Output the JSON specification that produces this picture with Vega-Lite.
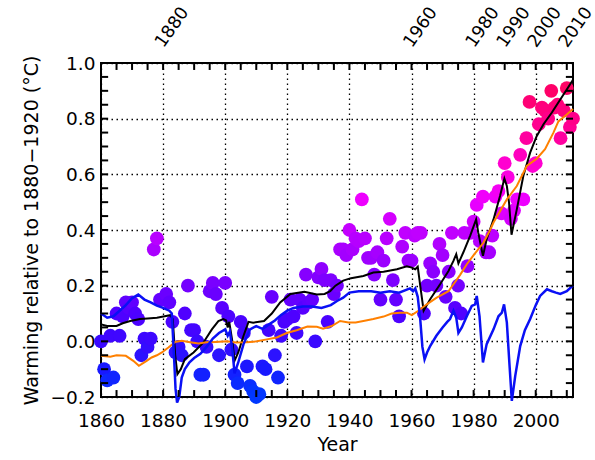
{
  "$schema": "https://vega.github.io/schema/vega-lite/v6.json",
  "width": 472,
  "height": 334,
  "autosize": "none",
  "padding": {"left": 101, "top": 63, "right": 22, "bottom": 63},
  "config": {
    "view": {"stroke": "black", "strokeWidth": 2},
    "font": "DejaVu Sans",
    "axis": {"labelFontSize": 18.5, "titleFontSize": 19, "titleFontWeight": "normal", "labelColor": "black", "titleColor": "black", "domain": false, "labelOverlap": false, "labelFlush": false}
  },
  "datasets": {
    "pts": [
      {"year":1860,"value":0.00},{"year":1861,"value":-0.10},{"year":1862,"value":-0.14},{"year":1863,"value":0.02},{"year":1864,"value":-0.13},
      {"year":1865,"value":0.10},{"year":1866,"value":0.02},{"year":1867,"value":0.09},{"year":1868,"value":0.14},{"year":1869,"value":0.12},
      {"year":1870,"value":0.14},{"year":1871,"value":0.10},{"year":1872,"value":0.08},{"year":1873,"value":-0.05},{"year":1874,"value":0.01},
      {"year":1875,"value":-0.02},{"year":1876,"value":0.01},{"year":1877,"value":0.33},{"year":1878,"value":0.37},{"year":1879,"value":0.15},
      {"year":1880,"value":0.15},{"year":1881,"value":0.17},{"year":1882,"value":0.14},{"year":1883,"value":0.07},{"year":1884,"value":-0.04},
      {"year":1885,"value":-0.02},{"year":1886,"value":-0.05},{"year":1887,"value":0.10},{"year":1888,"value":0.20},{"year":1889,"value":0.04},
      {"year":1890,"value":0.04},{"year":1891,"value":0.00},{"year":1892,"value":-0.12},{"year":1893,"value":-0.12},{"year":1894,"value":-0.02},
      {"year":1895,"value":0.18},{"year":1896,"value":0.21},{"year":1897,"value":0.17},{"year":1898,"value":-0.05},{"year":1899,"value":0.12},
      {"year":1900,"value":0.21},{"year":1901,"value":0.09},{"year":1902,"value":-0.03},{"year":1903,"value":-0.12},{"year":1904,"value":-0.15},
      {"year":1905,"value":0.07},{"year":1906,"value":0.03},{"year":1907,"value":-0.09},{"year":1908,"value":-0.16},{"year":1909,"value":-0.18},
      {"year":1910,"value":-0.20},{"year":1911,"value":-0.19},{"year":1912,"value":-0.09},{"year":1913,"value":-0.10},{"year":1914,"value":0.04},
      {"year":1915,"value":0.16},{"year":1916,"value":-0.05},{"year":1917,"value":-0.13},{"year":1918,"value":0.02},{"year":1919,"value":0.07},
      {"year":1920,"value":0.08},{"year":1921,"value":0.15},{"year":1922,"value":0.09},{"year":1923,"value":0.03},{"year":1924,"value":0.15},
      {"year":1925,"value":0.12},{"year":1926,"value":0.24},{"year":1927,"value":0.14},{"year":1928,"value":0.15},{"year":1929,"value":0.00},
      {"year":1930,"value":0.23},{"year":1931,"value":0.26},{"year":1932,"value":0.22},{"year":1933,"value":0.07},{"year":1934,"value":0.22},
      {"year":1935,"value":0.17},{"year":1936,"value":0.20},{"year":1937,"value":0.33},{"year":1938,"value":0.33},{"year":1939,"value":0.31},
      {"year":1940,"value":0.40},{"year":1941,"value":0.33},{"year":1942,"value":0.37},{"year":1943,"value":0.36},{"year":1944,"value":0.51},
      {"year":1945,"value":0.37},{"year":1946,"value":0.30},{"year":1947,"value":0.30},{"year":1948,"value":0.24},{"year":1949,"value":0.32},
      {"year":1950,"value":0.15},{"year":1951,"value":0.29},{"year":1952,"value":0.37},{"year":1953,"value":0.44},{"year":1954,"value":0.22},
      {"year":1955,"value":0.15},{"year":1956,"value":0.09},{"year":1957,"value":0.34},{"year":1958,"value":0.39},{"year":1959,"value":0.29},
      {"year":1960,"value":0.29},{"year":1961,"value":0.38},{"year":1962,"value":0.39},{"year":1963,"value":0.39},{"year":1964,"value":0.10},
      {"year":1965,"value":0.20},{"year":1966,"value":0.28},{"year":1967,"value":0.25},{"year":1968,"value":0.20},{"year":1969,"value":0.35},
      {"year":1970,"value":0.31},{"year":1971,"value":0.16},{"year":1972,"value":0.25},{"year":1973,"value":0.39},{"year":1974,"value":0.12},
      {"year":1975,"value":0.20},{"year":1976,"value":0.10},{"year":1977,"value":0.39},{"year":1978,"value":0.27},{"year":1979,"value":0.39},
      {"year":1980,"value":0.43},{"year":1981,"value":0.49},{"year":1982,"value":0.36},{"year":1983,"value":0.52},{"year":1984,"value":0.32},
      {"year":1985,"value":0.32},{"year":1986,"value":0.38},{"year":1987,"value":0.52},{"year":1988,"value":0.54},{"year":1989,"value":0.46},
      {"year":1990,"value":0.64},{"year":1991,"value":0.59},{"year":1992,"value":0.44},{"year":1993,"value":0.47},{"year":1994,"value":0.51},
      {"year":1995,"value":0.67},{"year":1996,"value":0.51},{"year":1997,"value":0.73},{"year":1998,"value":0.86},{"year":1999,"value":0.63},
      {"year":2000,"value":0.64},{"year":2001,"value":0.78},{"year":2002,"value":0.84},{"year":2003,"value":0.83},{"year":2004,"value":0.80},
      {"year":2005,"value":0.90},{"year":2006,"value":0.84},{"year":2007,"value":0.85},{"year":2008,"value":0.73},{"year":2009,"value":0.83},
      {"year":2010,"value":0.91},{"year":2011,"value":0.77},{"year":2012,"value":0.80}
    ],
    "black": [
      {"year":1860,"value":0.061},{"year":1862,"value":0.055},{"year":1865,"value":0.055},{"year":1867,"value":0.065},{"year":1869.4,"value":0.073},
      {"year":1872.6,"value":0.08},{"year":1875,"value":0.082},{"year":1878,"value":0.085},{"year":1880.5,"value":0.09},{"year":1882.3,"value":0.094},
      {"year":1883.1,"value":0.08},{"year":1883.9,"value":-0.05},{"year":1884.6,"value":-0.118},{"year":1885.7,"value":-0.10},{"year":1887,"value":-0.064},
      {"year":1889.8,"value":-0.04},{"year":1893,"value":-0.004},{"year":1895.7,"value":0.043},{"year":1897.8,"value":0.073},{"year":1899.4,"value":0.08},
      {"year":1900.3,"value":0.075},{"year":1900.8,"value":0.05},{"year":1901.3,"value":0.07},{"year":1902.3,"value":0.0},{"year":1903,"value":-0.07},
      {"year":1904.2,"value":-0.04},{"year":1905.9,"value":0.02},{"year":1907.5,"value":0.07},{"year":1909,"value":0.067},{"year":1912.5,"value":0.073},
      {"year":1915,"value":0.1},{"year":1917.7,"value":0.14},{"year":1921,"value":0.17},{"year":1925.5,"value":0.178},{"year":1929.5,"value":0.168},
      {"year":1932,"value":0.17},{"year":1933.8,"value":0.18},{"year":1935.5,"value":0.2},{"year":1938,"value":0.218},{"year":1940.5,"value":0.227},
      {"year":1944.5,"value":0.235},{"year":1947.7,"value":0.247},{"year":1951,"value":0.25},{"year":1955.3,"value":0.259},{"year":1958.5,"value":0.27},
      {"year":1960.1,"value":0.265},{"year":1961.2,"value":0.259},{"year":1962,"value":0.268},{"year":1962.8,"value":0.2},{"year":1963.9,"value":0.11},
      {"year":1966,"value":0.151},{"year":1969.2,"value":0.205},{"year":1971.9,"value":0.253},{"year":1973.5,"value":0.289},{"year":1974.4,"value":0.313},
      {"year":1975.1,"value":0.28},{"year":1976.7,"value":0.32},{"year":1978.9,"value":0.38},{"year":1980.8,"value":0.438},{"year":1981.5,"value":0.39},
      {"year":1983,"value":0.307},{"year":1984.2,"value":0.367},{"year":1986.4,"value":0.438},{"year":1988.5,"value":0.522},{"year":1989.9,"value":0.585},
      {"year":1990.7,"value":0.558},{"year":1991.4,"value":0.498},{"year":1992.2,"value":0.383},{"year":1993.9,"value":0.474},{"year":1996,"value":0.594},
      {"year":1998.2,"value":0.678},{"year":2000.3,"value":0.737},{"year":2002.5,"value":0.78},{"year":2005.2,"value":0.822},{"year":2007.9,"value":0.869},
      {"year":2010,"value":0.905},{"year":2012,"value":0.94}
    ],
    "orange": [
      {"year":1860,"value":-0.052},{"year":1863,"value":-0.055},{"year":1865,"value":-0.05},{"year":1868,"value":-0.052},{"year":1870.4,"value":-0.07},
      {"year":1872.2,"value":-0.088},{"year":1874.7,"value":-0.07},{"year":1876.3,"value":-0.058},{"year":1878,"value":-0.05},{"year":1879.6,"value":-0.04},
      {"year":1881.7,"value":-0.022},{"year":1883.9,"value":-0.002},{"year":1886,"value":0.002},{"year":1888.7,"value":-0.003},{"year":1891.4,"value":-0.008},
      {"year":1894,"value":-0.003},{"year":1897,"value":-0.002},{"year":1900.5,"value":0.0},{"year":1903.5,"value":-0.004},{"year":1907,"value":-0.003},
      {"year":1910.2,"value":0.0},{"year":1913.4,"value":0.007},{"year":1916.6,"value":0.014},{"year":1919.8,"value":0.03},{"year":1923,"value":0.04},
      {"year":1926.5,"value":0.053},{"year":1929.5,"value":0.052},{"year":1931.5,"value":0.045},{"year":1934.3,"value":0.055},{"year":1937,"value":0.073},
      {"year":1939.7,"value":0.068},{"year":1942,"value":0.068},{"year":1944.5,"value":0.073},{"year":1947.7,"value":0.08},{"year":1951,"value":0.089},
      {"year":1953.6,"value":0.1},{"year":1956.3,"value":0.103},{"year":1958.5,"value":0.103},{"year":1960.1,"value":0.094},{"year":1962.2,"value":0.11},
      {"year":1964.9,"value":0.133},{"year":1968.1,"value":0.157},{"year":1971.9,"value":0.18},{"year":1973.5,"value":0.205},{"year":1975.6,"value":0.238},
      {"year":1977.8,"value":0.277},{"year":1980,"value":0.31},{"year":1983.2,"value":0.355},{"year":1985.3,"value":0.40},{"year":1986.4,"value":0.427},
      {"year":1990.7,"value":0.51},{"year":1993.9,"value":0.558},{"year":1997.1,"value":0.63},{"year":2000.3,"value":0.656},{"year":2003,"value":0.69},
      {"year":2005.7,"value":0.75},{"year":2007.3,"value":0.79},{"year":2010,"value":0.815},{"year":2012,"value":0.835}
    ],
    "blue": [
      {"year":1860,"value":0.10},{"year":1862,"value":0.085},{"year":1864,"value":0.09},{"year":1866,"value":0.11},{"year":1868,"value":0.13},
      {"year":1870,"value":0.155},{"year":1872,"value":0.168},{"year":1874,"value":0.15},{"year":1876,"value":0.14},{"year":1878,"value":0.128},
      {"year":1880,"value":0.12},{"year":1882,"value":0.11},{"year":1882.8,"value":0.10},{"year":1883.5,"value":-0.05},{"year":1884,"value":-0.17},
      {"year":1884.5,"value":-0.22},{"year":1885.2,"value":-0.20},{"year":1886,"value":-0.13},{"year":1887,"value":-0.10},{"year":1888.5,"value":-0.075},
      {"year":1890,"value":-0.06},{"year":1892,"value":-0.045},{"year":1894,"value":-0.02},{"year":1896,"value":0.01},{"year":1898,"value":0.03},
      {"year":1900,"value":0.043},{"year":1900.8,"value":0.02},{"year":1901.5,"value":0.035},{"year":1902.3,"value":-0.03},{"year":1903,"value":-0.115},
      {"year":1904.2,"value":-0.076},{"year":1905.9,"value":-0.01},{"year":1908,"value":0.043},{"year":1910,"value":0.055},{"year":1912,"value":0.045},
      {"year":1914,"value":0.06},{"year":1916,"value":0.075},{"year":1918,"value":0.095},{"year":1920,"value":0.11},{"year":1922,"value":0.12},
      {"year":1925,"value":0.125},{"year":1928,"value":0.125},{"year":1931,"value":0.12},{"year":1934,"value":0.13},{"year":1936,"value":0.145},
      {"year":1938,"value":0.157},{"year":1940,"value":0.175},{"year":1943,"value":0.18},{"year":1947,"value":0.18},{"year":1950,"value":0.175},
      {"year":1953,"value":0.18},{"year":1956,"value":0.175},{"year":1959.5,"value":0.19},{"year":1960.5,"value":0.18},{"year":1961.2,"value":0.19},
      {"year":1962,"value":0.16},{"year":1962.8,"value":0.08},{"year":1963.5,"value":-0.02},{"year":1964.2,"value":-0.065},{"year":1965,"value":-0.04},
      {"year":1966,"value":-0.017},{"year":1968,"value":0.02},{"year":1970,"value":0.05},{"year":1971.5,"value":0.07},{"year":1972.4,"value":0.08},
      {"year":1973.5,"value":0.11},{"year":1974.4,"value":0.085},{"year":1975.1,"value":0.03},{"year":1976.2,"value":0.05},{"year":1977.8,"value":0.09},
      {"year":1979.4,"value":0.127},{"year":1980.5,"value":0.133},{"year":1981,"value":0.163},{"year":1981.9,"value":0.09},{"year":1983,"value":-0.076},
      {"year":1984.2,"value":-0.01},{"year":1986.4,"value":0.043},{"year":1988,"value":0.09},{"year":1989.1,"value":0.103},{"year":1989.8,"value":0.133},
      {"year":1990.7,"value":0.067},{"year":1991.5,"value":-0.076},{"year":1992.3,"value":-0.214},{"year":1993.4,"value":-0.124},{"year":1995,"value":-0.017},
      {"year":1996.5,"value":0.04},{"year":1998.2,"value":0.08},{"year":2000,"value":0.13},{"year":2001.4,"value":0.163},{"year":2003.6,"value":0.187},
      {"year":2005.2,"value":0.18},{"year":2006.5,"value":0.175},{"year":2007.9,"value":0.17},{"year":2010,"value":0.18},{"year":2011.6,"value":0.197},
      {"year":2012,"value":0.2}
    ],
    "xticks": [
      {"year":1865},{"year":1870},{"year":1875},{"year":1880},{"year":1885},{"year":1890},{"year":1895},{"year":1900},{"year":1905},{"year":1910},
      {"year":1915},{"year":1920},{"year":1925},{"year":1930},{"year":1935},{"year":1940},{"year":1945},{"year":1950},{"year":1955},{"year":1960},
      {"year":1965},{"year":1970},{"year":1975},{"year":1980},{"year":1985},{"year":1990},{"year":1995},{"year":2000},{"year":2005},{"year":2010}
    ],
    "yticks": [
      {"value":-0.15},{"value":-0.1},{"value":-0.05},{"value":0},{"value":0.05},{"value":0.1},{"value":0.15},{"value":0.2},
      {"value":0.25},{"value":0.3},{"value":0.35},{"value":0.4},{"value":0.45},{"value":0.5},{"value":0.55},{"value":0.6},
      {"value":0.65},{"value":0.7},{"value":0.75},{"value":0.8},{"value":0.85},{"value":0.9},{"value":0.95}
    ]
  },
  "resolve": {"axis": {"x": "independent", "y": "independent"}},
  "layer": [
    {
      "data": {"name": "pts"},
      "mark": {"type": "point", "filled": true, "opacity": 1, "size": 190, "shape": "circle", "clip": false},
      "encoding": {
        "x": {"field": "year", "type": "quantitative",
          "scale": {"domain": [1860, 2012], "nice": false, "zero": false},
          "axis": {"orient": "bottom", "values": [1860,1880,1900,1920,1940,1960,1980,2000], "format": "d", "title": "Year",
            "grid": true, "gridDash": [1.5, 3.5], "gridColor": "black", "gridOpacity": 1, "gridWidth": 1.3,
            "ticks": true, "tickSize": 0, "tickOpacity": 0, "labelPadding": 14, "titlePadding": 6}},
        "y": {"field": "value", "type": "quantitative",
          "scale": {"domain": [-0.2, 1.0], "nice": false, "zero": false},
          "axis": {"orient": "left", "values": [-0.2,0,0.2,0.4,0.6,0.8,1.0], "format": ".1f", "title": "Warming relative to 1880−1920 (°C)",
            "grid": true, "gridDash": [1.5, 3.5], "gridColor": "black", "gridOpacity": 1, "gridWidth": 1.3,
            "ticks": true, "tickSize": 0, "tickOpacity": 0, "labelPadding": 6, "titlePadding": 9}},
        "color": {"field": "value", "type": "quantitative", "legend": null,
          "scale": {"domain": [-0.2, -0.1, 0.0, 0.1, 0.2, 0.37, 0.51, 0.64, 0.73, 0.9],
            "range": ["#0038ff", "#1818ff", "#3a08ff", "#5000ff", "#7400ff", "#b800ff", "#ee00ff", "#ff00d0", "#ff00a0", "#ff0068"]}}
      }
    },
    {
      "data": {"name": "black"},
      "mark": {"type": "line", "color": "black", "strokeWidth": 2, "clip": false},
      "encoding": {
        "x": {"field": "year", "type": "quantitative", "axis": null},
        "y": {"field": "value", "type": "quantitative", "axis": null}
      }
    },
    {
      "data": {"name": "orange"},
      "mark": {"type": "line", "color": "#ff8000", "strokeWidth": 2, "clip": false},
      "encoding": {
        "x": {"field": "year", "type": "quantitative", "axis": null},
        "y": {"field": "value", "type": "quantitative", "axis": null}
      }
    },
    {
      "data": {"name": "blue"},
      "mark": {"type": "line", "color": "#0a10f5", "strokeWidth": 2.5, "clip": false},
      "encoding": {
        "x": {"field": "year", "type": "quantitative",
          "axis": {"orient": "top", "values": [1880,1960,1980,1990,2000,2010], "format": "d", "labelAngle": -55,
            "labelAlign": "left", "labelBaseline": "alphabetic", "ticks": false, "grid": false, "labelPadding": 15, "labelOffset": 0, "labelFontSize": 17.5, "title": null}},
        "y": {"field": "value", "type": "quantitative", "axis": null}
      }
    },
    {
      "data": {"name": "xticks"},
      "mark": {"type": "rule", "color": "#000000", "strokeWidth": 2, "opacity": 1},
      "encoding": {
        "x": {"field": "year", "type": "quantitative", "axis": null},
        "y": {"datum": -0.2, "type": "quantitative", "axis": null},
        "y2": {"datum": -0.175}
      }
    },
    {
      "data": {"name": "xticks"},
      "mark": {"type": "rule", "color": "#000000", "strokeWidth": 2, "opacity": 1},
      "encoding": {
        "x": {"field": "year", "type": "quantitative", "axis": null},
        "y": {"datum": 1.0, "type": "quantitative", "axis": null},
        "y2": {"datum": 0.975}
      }
    },
    {
      "data": {"name": "yticks"},
      "mark": {"type": "rule", "color": "#000000", "strokeWidth": 2, "opacity": 1},
      "encoding": {
        "y": {"field": "value", "type": "quantitative", "axis": null},
        "x": {"datum": 1860, "type": "quantitative", "axis": null},
        "x2": {"datum": 1862.3}
      }
    },
    {
      "data": {"name": "yticks"},
      "mark": {"type": "rule", "color": "#000000", "strokeWidth": 2, "opacity": 1},
      "encoding": {
        "y": {"field": "value", "type": "quantitative", "axis": null},
        "x": {"datum": 2012, "type": "quantitative", "axis": null},
        "x2": {"datum": 2009.7}
      }
    }
  ]
}
